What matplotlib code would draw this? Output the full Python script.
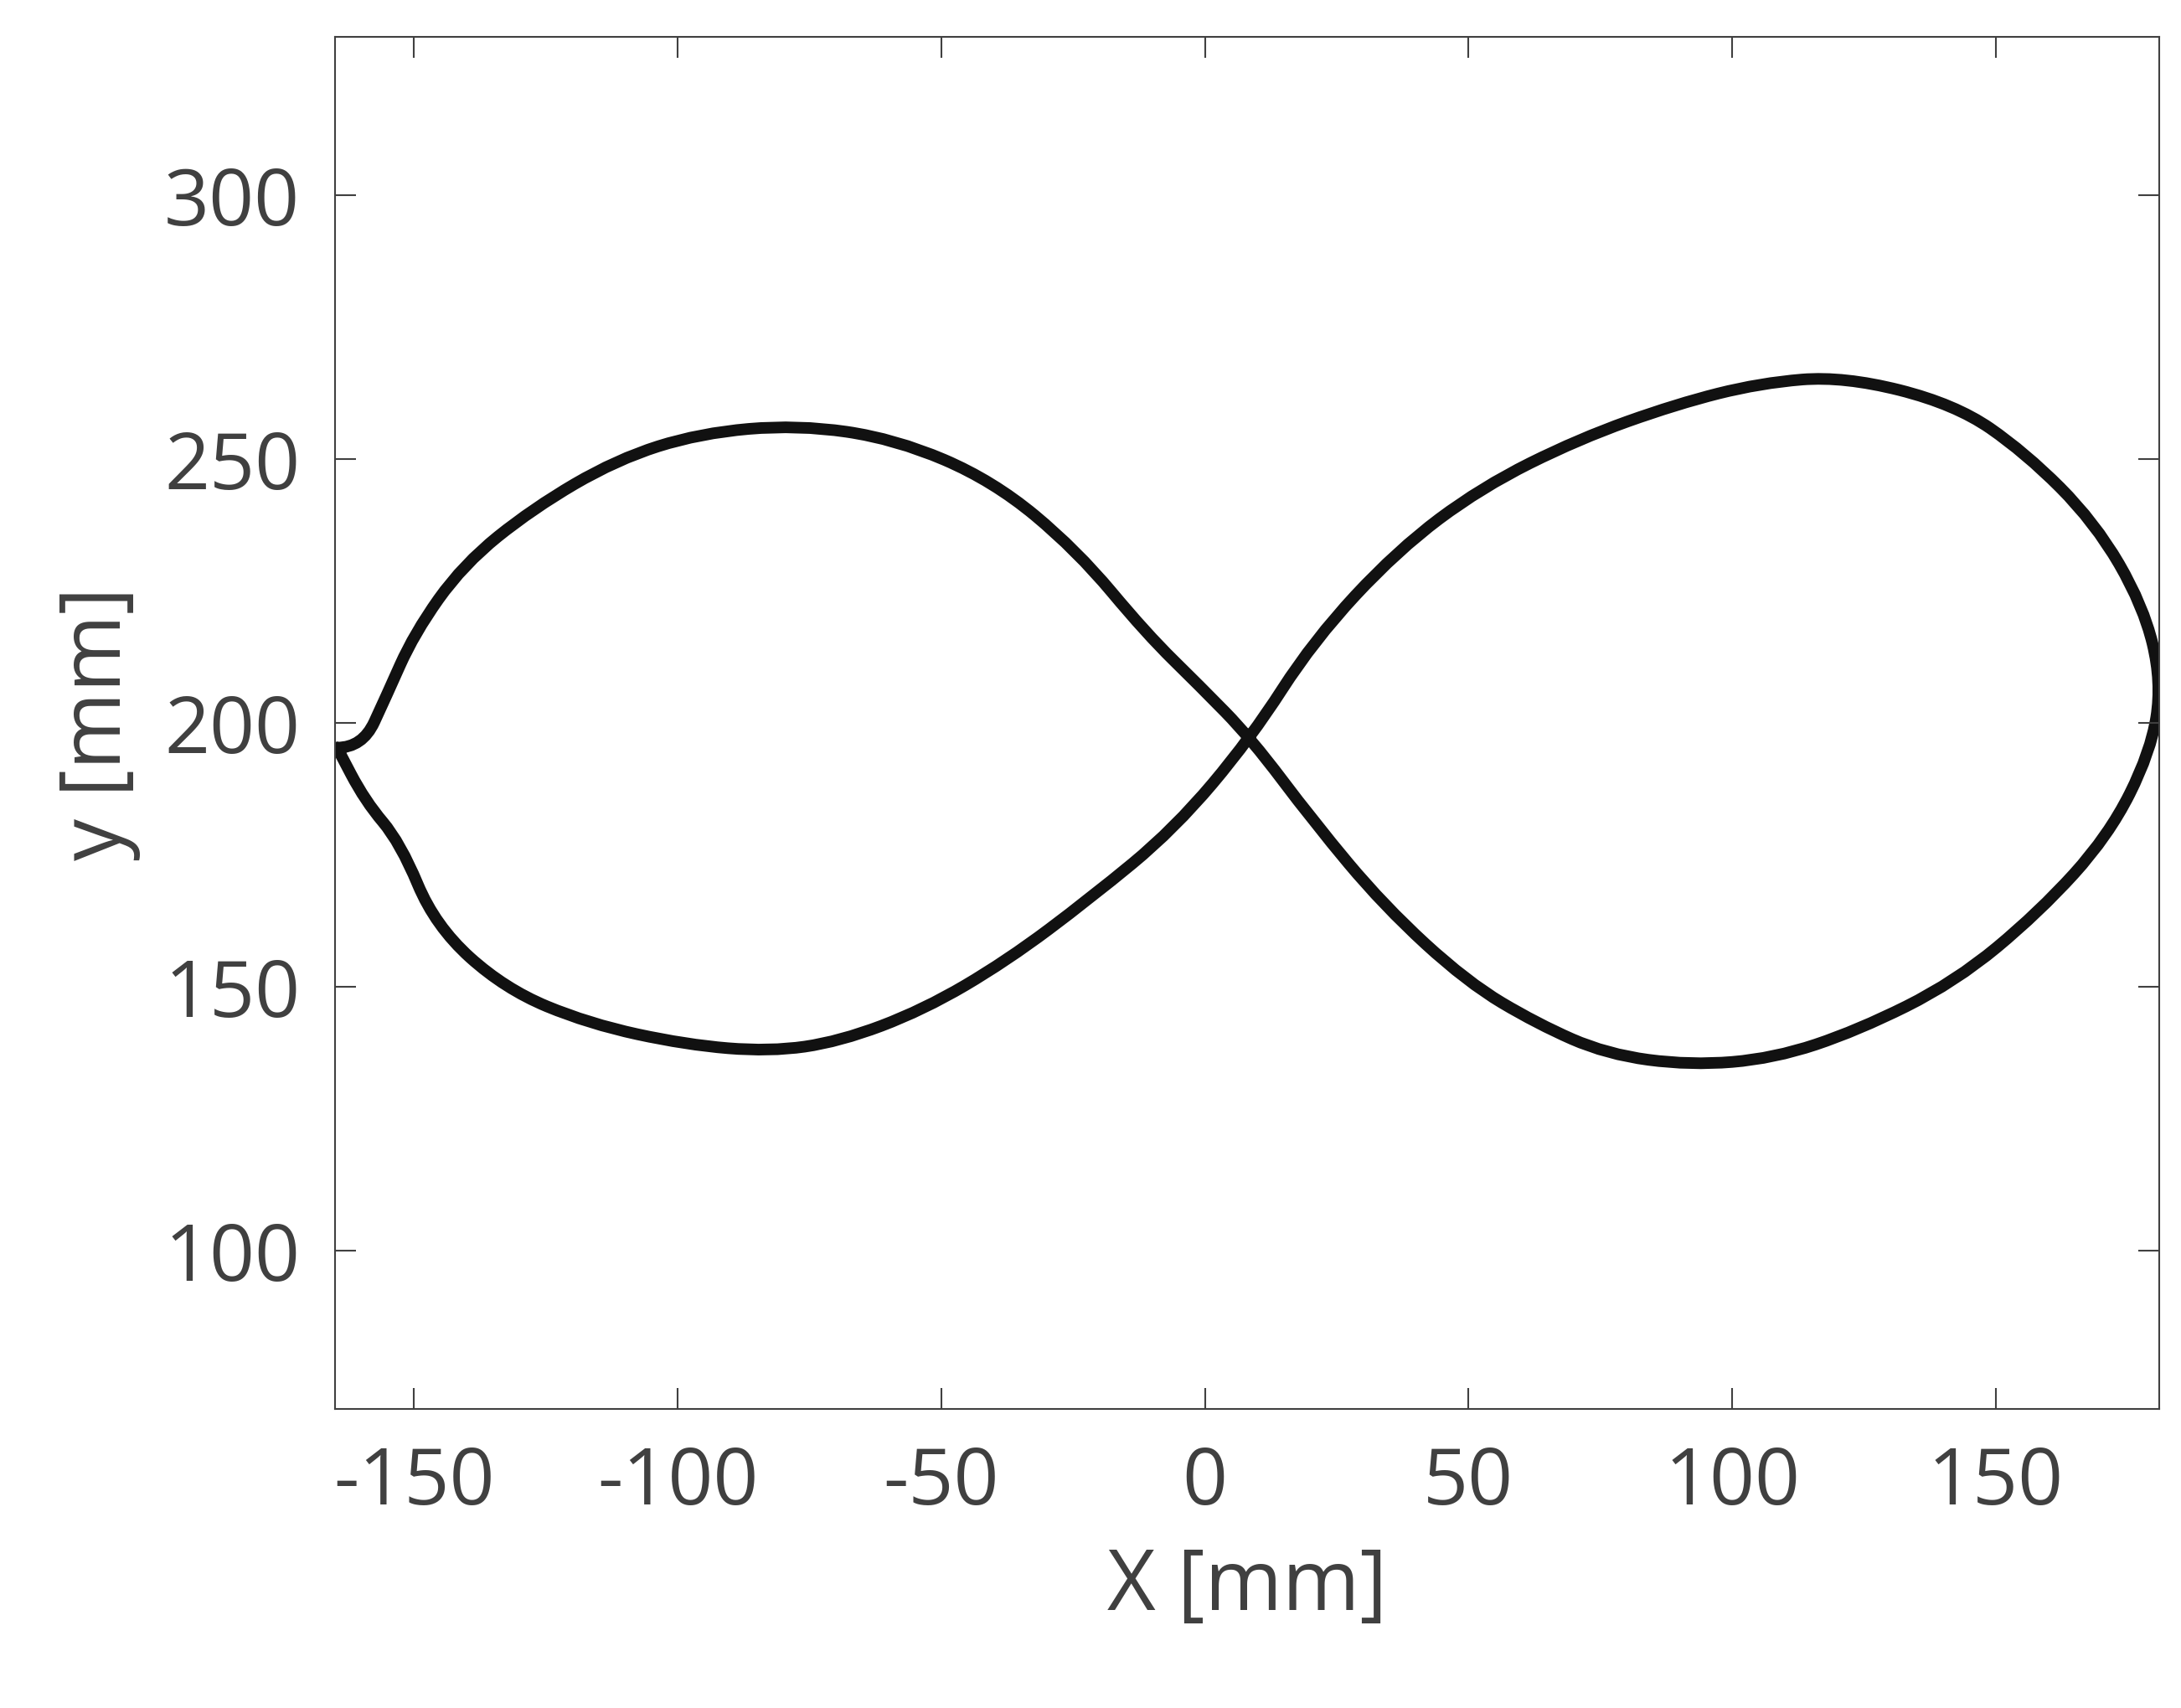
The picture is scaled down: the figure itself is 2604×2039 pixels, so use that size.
import matplotlib as mpl
mpl.use('Agg')
import matplotlib.pyplot as plt
from matplotlib.path import Path
from matplotlib.patches import PathPatch

plt.rcParams['axes.unicode_minus'] = False
plt.rcParams['font.family'] = ['Open Sans', 'DejaVu Sans']

# traced path of the figure-eight trajectory (mm)
x_mm = [-164.6, -159.8, -155.3, -150.0, -140.7, -127.5, -111.6, -95.8, -77.2, -58.7,
        -40.2, -24.3, -11.1, -1.0, 8.7, 20.6, 33.9, 49.7, 63.0, 76.2, 92.1, 107.9,
        123.8, 142.3, 158.2, 171.4, 179.4, 181.5, 178.0, 168.8, 155.6, 142.3, 121.2,
        105.3, 89.4, 70.9, 52.4, 36.5, 20.6, 8.7, -5.8, -21.7, -37.6, -53.4, -69.3,
        -82.5, -98.4, -116.9, -132.8, -146.0, -152.6, -159.3, -164.6]
y_mm = [195.3, 195.3, 205.0, 216.9, 230.0, 240.6, 249.9, 254.9, 256.5, 253.8,
        245.9, 232.7, 216.9, 207.0, 197.1, 181.3, 165.4, 150.9, 143.0, 137.2, 135.1, 136.4,
        141.7, 150.9, 164.1, 178.6, 194.5, 207.7, 222.2, 238.0, 251.2, 260.4, 265.7,
        264.4, 260.4, 253.8, 244.6, 232.7, 215.6, 197.1, 179.9, 166.8, 154.9, 145.6, 139.6,
        137.7, 139.0, 143.0, 149.6, 161.5, 177.3, 185.2, 195.3]

# smooth quadratic curve through the traced points
pts = list(zip(x_mm, y_mm))
verts = [pts[0]]
codes = [Path.MOVETO]
for i in range(1, len(pts) - 1):
    mid = ((pts[i][0] + pts[i + 1][0]) / 2, (pts[i][1] + pts[i + 1][1]) / 2)
    verts += [pts[i], mid]
    codes += [Path.CURVE3, Path.CURVE3]
verts.append(pts[-1])
codes.append(Path.LINETO)

grey = '#404040'
fig = plt.figure(figsize=(26.04, 20.4), dpi=100)
ax = fig.add_axes([0.1536, 0.175, 0.8364, 0.803])
ax.add_patch(PathPatch(Path(verts, codes), facecolor='none', edgecolor='#111111',
                       linewidth=10, joinstyle='round', capstyle='round'))
ax.set_xlim(-165, 181)
ax.set_ylim(70, 330)
ax.set_xticks([-150, -100, -50, 0, 50, 100, 150])
ax.set_yticks([100, 150, 200, 250, 300])
ax.tick_params(direction='in', length=18, width=1.5, labelsize=68, colors=grey,
               top=True, right=True, pad=30)
for s in ax.spines.values():
    s.set_color(grey)
    s.set_linewidth(1.5)
ax.set_xlabel('X [mm]', fontsize=72, color=grey, labelpad=20)
ax.set_ylabel('y [mm]', fontsize=72, color=grey, labelpad=20)
fig.savefig('out.png', dpi=100)
